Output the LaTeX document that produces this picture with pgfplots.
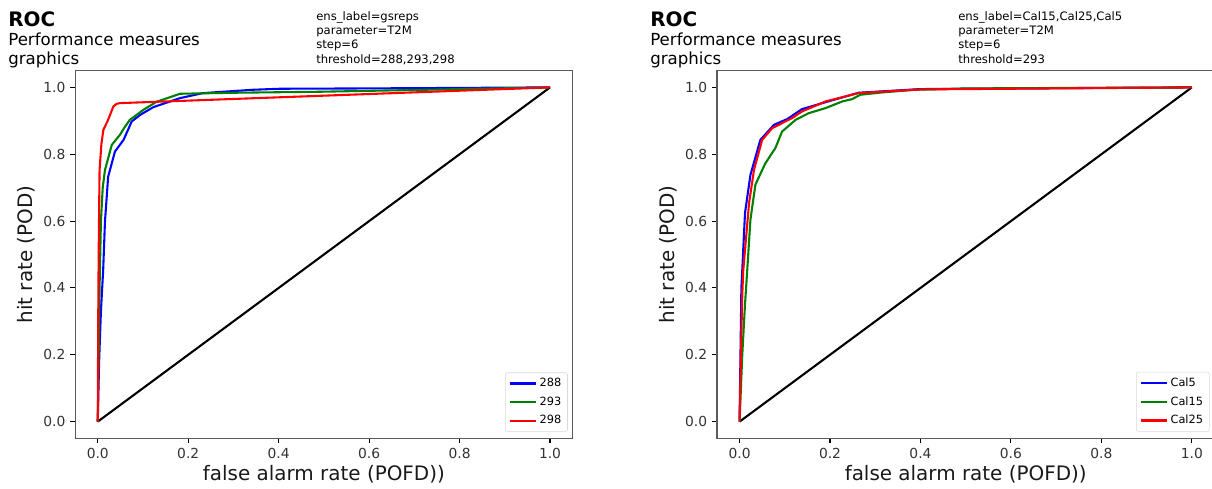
\documentclass[border=0pt]{standalone}
\usepackage{fontspec}
\setmainfont{DejaVu Sans}
\usepackage{pgfplots}
\pgfplotsset{compat=1.18}

\definecolor{mplblue}{rgb}{0,0,1}
\definecolor{mplgreen}{rgb}{0,0.5,0}
\definecolor{mplred}{rgb}{1,0,0}

\pgfplotsset{
  rocaxis/.style={
    scale only axis,
    width=358.2bp,
    height=264.7bp,
    xmin=-0.05, xmax=1.05,
    ymin=-0.05, ymax=1.05,
    xtick={0,0.2,0.4,0.6,0.8,1},
    ytick={0,0.2,0.4,0.6,0.8,1},
    tick align=outside,
    major tick length=3.5bp,
    axis line style={black!65, line width=0.8bp},
    tick style={black, line width=0.8bp},
    xtick pos=bottom, ytick pos=left,
    tick label style={font=\fontsize{10}{12}\selectfont, text=black!80},
    /pgf/number format/assume math mode=true,
    /pgf/number format/.cd, fixed, fixed zerofill, precision=1, /pgfplots/.cd,
    label style={font=\fontsize{14.4}{16}\selectfont, text=black!90},
    xlabel={false alarm rate (POFD))},
    ylabel={hit rate (POD)},
    xlabel style={at={(axis description cs:0.5,-0.116)}, anchor=base},
    ylabel style={at={(axis description cs:-0.086,0.5)}, anchor=base},
    legend cell align=left,
    legend style={
      at={(axis description cs:1,0)}, anchor=south east,
      xshift=-3.5bp, yshift=4.8bp,
      draw=black!15, rounded corners=1.5bp, fill=white,
      font=\fontsize{8.2}{9.5}\selectfont,
      inner xsep=2.5bp, inner ysep=2bp,
      row sep=1.8bp,
    },
    legend image code/.code={\draw[#1, line width=1.5bp] (0bp,0bp) -- (18.7bp,0bp);},
    every axis plot/.append style={line width=1.5bp},
  }
}

\begin{document}
\begin{tikzpicture}
\useasboundingbox (0,0) rectangle (872.64bp,-352.08bp);

% ---------------- left panel ----------------
\node[anchor=base west, inner sep=0pt, font=\fontsize{14.4}{16}\selectfont\bfseries] at (5.8bp,-19.4bp) {ROC};
\node[anchor=base west, inner sep=0pt, font=\fontsize{12}{14}\selectfont] at (5.8bp,-33.1bp) {Performance measures};
\node[anchor=base west, inner sep=0pt, font=\fontsize{12}{14}\selectfont] at (5.8bp,-46.1bp) {graphics};
\node[anchor=base west, font=\fontsize{8.4}{10}\selectfont, inner sep=0pt] at (227.5bp,-14.4bp) {ens\_label=gsreps};
\node[anchor=base west, font=\fontsize{8.4}{10}\selectfont, inner sep=0pt] at (227.5bp,-24.7bp) {parameter=T2M};
\node[anchor=base west, font=\fontsize{8.4}{10}\selectfont, inner sep=0pt] at (227.5bp,-35.0bp) {step=6};
\node[anchor=base west, font=\fontsize{8.4}{10}\selectfont, inner sep=0pt] at (227.5bp,-45.4bp) {threshold=288,293,298};

\begin{axis}[rocaxis, at={(54.1bp,-315.6bp)}, anchor=south west]
\addplot[black, forget plot] coordinates {(0,0) (1,1)};
\addplot[mplblue] coordinates {
(0,0) (0.003,0.18) (0.007,0.33) (0.012,0.454) (0.016,0.6) (0.023,0.733)
(0.038,0.808) (0.057,0.843) (0.066,0.87) (0.075,0.898) (0.094,0.918)
(0.123,0.941) (0.149,0.953) (0.182,0.968) (0.233,0.983) (0.344,0.993)
(0.403,0.996) (0.6,0.997) (1,1)
};
\addlegendentry{288}
\addplot[mplgreen] coordinates {
(0,0) (0.002,0.2) (0.004,0.4) (0.007,0.6) (0.011,0.7) (0.016,0.753)
(0.031,0.828) (0.049,0.858) (0.06,0.882) (0.071,0.903) (0.101,0.933)
(0.130,0.957) (0.182,0.981) (0.3,0.984) (0.491,0.987) (1,1)
};
\addlegendentry{293}
\addplot[mplred] coordinates {
(0,0) (0.001,0.3) (0.002,0.5) (0.004,0.752) (0.008,0.83) (0.0124,0.873)
(0.022,0.9) (0.0345,0.943) (0.042,0.951) (0.049,0.953) (1,1)
};
\addlegendentry{298}
\end{axis}

% ---------------- right panel ----------------
\node[anchor=base west, inner sep=0pt, font=\fontsize{14.4}{16}\selectfont\bfseries] at (468bp,-19.4bp) {ROC};
\node[anchor=base west, inner sep=0pt, font=\fontsize{12}{14}\selectfont] at (468bp,-33.1bp) {Performance measures};
\node[anchor=base west, inner sep=0pt, font=\fontsize{12}{14}\selectfont] at (468bp,-46.1bp) {graphics};
\node[anchor=base west, font=\fontsize{8.4}{10}\selectfont, inner sep=0pt] at (689.8bp,-14.4bp) {ens\_label=Cal15,Cal25,Cal5};
\node[anchor=base west, font=\fontsize{8.4}{10}\selectfont, inner sep=0pt] at (689.8bp,-24.7bp) {parameter=T2M};
\node[anchor=base west, font=\fontsize{8.4}{10}\selectfont, inner sep=0pt] at (689.8bp,-35.0bp) {step=6};
\node[anchor=base west, font=\fontsize{8.4}{10}\selectfont, inner sep=0pt] at (689.8bp,-45.4bp) {threshold=293};

\begin{axis}[rocaxis, at={(516.2bp,-315.6bp)}, anchor=south west]
\addplot[black, forget plot] coordinates {(0,0) (1,1)};
\addplot[mplblue] coordinates {
(0,0) (0.002,0.2) (0.004,0.4) (0.006,0.454) (0.012,0.624) (0.024,0.738)
(0.046,0.843) (0.076,0.888) (0.105,0.905) (0.138,0.935) (0.183,0.953)
(0.263,0.984) (0.4,0.995) (0.6,0.997) (1,1)
};
\addlegendentry{Cal5}
\addplot[mplgreen] coordinates {
(0,0) (0.006,0.2) (0.012,0.35) (0.017,0.454) (0.024,0.604) (0.035,0.709)
(0.057,0.773) (0.079,0.818) (0.094,0.868) (0.124,0.903) (0.153,0.923)
(0.19,0.938) (0.227,0.958) (0.249,0.965) (0.267,0.978) (0.315,0.985)
(0.389,0.993) (0.5,0.997) (1,1)
};
\addlegendentry{Cal15}
\addplot[mplred] coordinates {
(0,0) (0.003,0.2) (0.006,0.38) (0.008,0.45) (0.021,0.654) (0.032,0.754)
(0.05,0.843) (0.072,0.878) (0.116,0.908) (0.138,0.928) (0.19,0.958)
(0.263,0.983) (0.4,0.994) (1,1)
};
\addlegendentry{Cal25}
\end{axis}
\end{tikzpicture}
\end{document}
